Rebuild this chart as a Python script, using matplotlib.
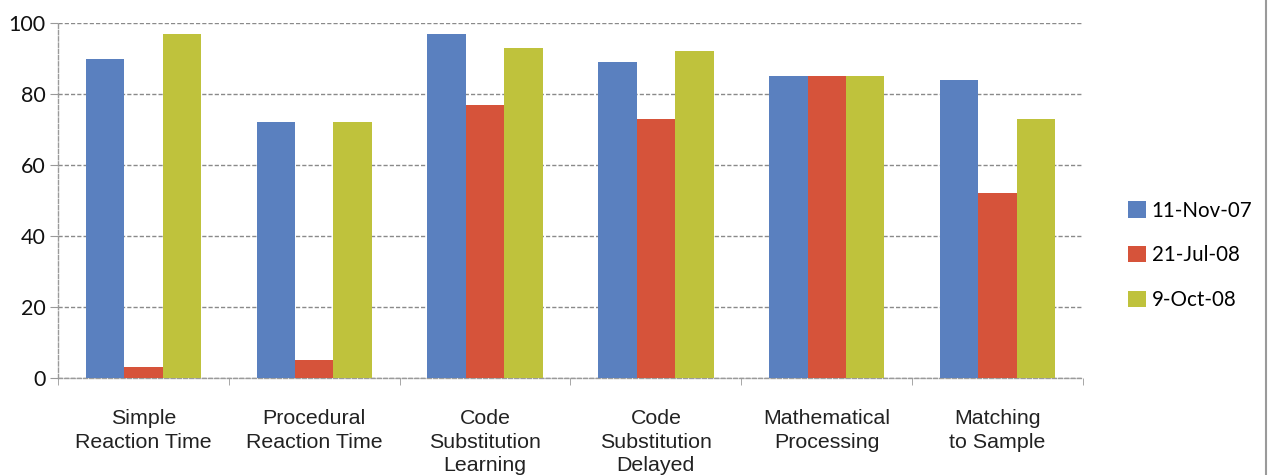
import matplotlib.pyplot as plt
import numpy as np
from matplotlib.lines import Line2D

categories = ["Simple\nReaction Time", "Procedural\nReaction Time",
              "Code\nSubstitution\nLearning", "Code\nSubstitution\nDelayed",
              "Mathematical\nProcessing", "Matching\nto Sample"]
series_labels = ["11-Nov-07", "21-Jul-08", "9-Oct-08"]
nov07 = [90, 72, 97, 89, 85, 84]
jul08 = [3, 5, 77, 73, 85, 52]
oct08 = [97, 72, 93, 92, 85, 73]
y_ticks = [0, 20, 40, 60, 80, 100]

colors = ["#5a80bf", "#d6533a", "#bfc23c"]

fig = plt.figure(figsize=(12.72, 4.75), dpi=100)
ax = fig.add_axes([58 / 1272, 1 - 378 / 475, (1083 - 58) / 1272, (378 - 23) / 475])

x = np.arange(len(categories))
width = 0.225
for i, (vals, lab, col) in enumerate(zip([nov07, jul08, oct08], series_labels, colors)):
    ax.bar(x + (i - 1) * width, vals, width, color=col, label=lab,
           edgecolor="none", zorder=3)

ax.set_xlim(-0.5, len(categories) - 0.5)
ax.set_ylim(0, 100)
ax.set_yticks(y_ticks)
ax.set_yticklabels([str(v) for v in y_ticks], fontfamily="Lato", fontsize=15.5,
                   color="#111111")

ax.set_xticks(x)
ax.set_xticklabels(categories, fontfamily="Liberation Sans", fontsize=15.4,
                   color="#222222", linespacing=1.33)
ax.tick_params(axis="x", length=0, pad=22)
ax.set_xticks(np.arange(-0.5, len(categories)), minor=True)
ax.tick_params(axis="x", which="minor", length=5, color="#999999", direction="out")
ax.tick_params(axis="y", length=6, color="#999999", direction="out", pad=3)

ax.yaxis.grid(True, linestyle=(0, (3, 1.5)), color="#8a8a8a", linewidth=1.0, zorder=0)
for side in ["top", "right"]:
    ax.spines[side].set_visible(False)
for side in ["left", "bottom"]:
    ax.spines[side].set_color("#9a9a9a")
    ax.spines[side].set_linestyle((0, (3, 1.5)))
    ax.spines[side].set_linewidth(1.0)

leg = ax.legend(loc="center left", bbox_to_anchor=(1.044, 0.346), frameon=False,
                prop={"family": "Lato", "size": 14.8}, handlelength=0.85,
                handleheight=0.85, handletextpad=0.3, labelspacing=1.2,
                borderaxespad=0, borderpad=0)

fig.add_artist(Line2D([1266 / 1272, 1266 / 1272], [0, 1], color="#9a9a9a",
                      linewidth=1.5, transform=fig.transFigure))

fig.savefig("out.png", dpi=100)
